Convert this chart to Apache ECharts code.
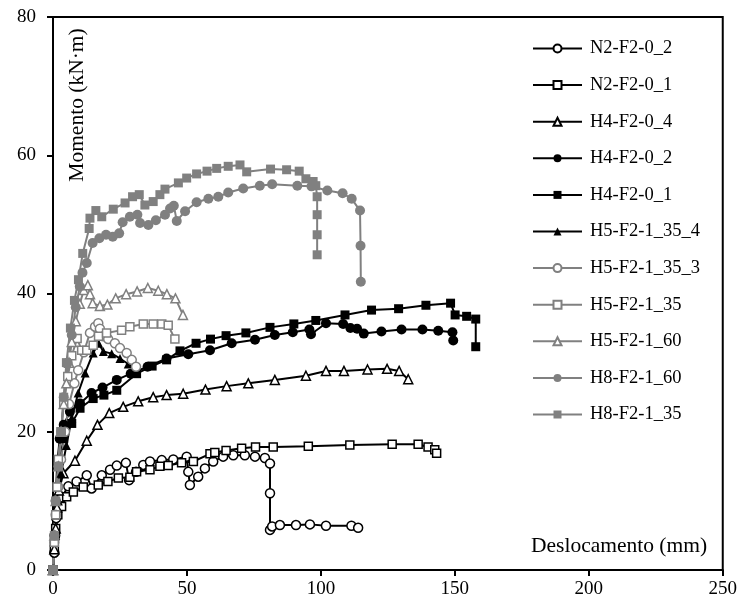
<!DOCTYPE html>
<html>
<head>
<meta charset="utf-8">
<script src="https://cdn.jsdelivr.net/npm/echarts@6/dist/echarts.min.js"></script>
<style>
  html, body { margin: 0; padding: 0; background: #fff; }
  #chart { width: 740px; height: 606px; }
</style>
</head>
<body>
<div id="chart"></div>
<script>
// values: [deslocamento (mm), momento (kN·m)]
const seriesNames = ['N2-F2-0_2', 'N2-F2-0_1', 'H4-F2-0_4', 'H4-F2-0_2', 'H4-F2-0_1',
  'H5-F2-1_35_4', 'H5-F2-1_35_3', 'H5-F2-1_35', 'H5-F2-1_60', 'H8-F2-1_60', 'H8-F2-1_35'];

const n2_0_2 = [[0, 0], [0.5, 2.5], [0.8, 5], [1.2, 7.5], [2, 9.5], [3.2, 10.5], [5.7, 12.1], [8.8, 12.8],
  [12.6, 13.7], [14.4, 11.8], [18.2, 13.7], [21.3, 14.5], [23.8, 15.1], [27.2, 15.5], [28.4, 13],
  [31, 14.2], [33.7, 15.2], [36.2, 15.7], [40.6, 15.9], [44.9, 16.0], [49.9, 16.4], [50.5, 14.2],
  [51.1, 12.3], [54.2, 13.5], [56.7, 14.7], [59.8, 15.7], [63.5, 16.4], [67.3, 16.6], [71.6, 16.6],
  [75.4, 16.4], [79.1, 16.2], [81, 15.4], [81, 11.1], [81, 5.8], [81.8, 6.3], [84.7, 6.5], [90.7, 6.5],
  [95.9, 6.6], [101.9, 6.4], [111.4, 6.4], [113.9, 6.1]];
const n2_0_1 = [[0, 0], [0.5, 3], [1, 6], [1.8, 8], [3.2, 9.2], [5.1, 10.6], [7.6, 11.3], [11.3, 12],
  [16.9, 12.3], [20.5, 12.8], [24.4, 13.3], [28.7, 13.4], [31.2, 14.2], [36.2, 14.5], [39.9, 15],
  [43, 15.1], [48, 15.5], [52.4, 15.7], [58.6, 16.8], [60.4, 17], [64.6, 17.3], [70.4, 17.6],
  [75.6, 17.8], [82.2, 17.8], [95.3, 17.9], [110.8, 18.1], [126.6, 18.2], [136.3, 18.2], [140, 17.8],
  [142.5, 17.4], [143.2, 16.9]];
const h4_0_4 = [[0, 0], [0.5, 3], [1, 6], [1.5, 9], [2.2, 11.5], [3.9, 14], [8.2, 15.8], [12.6, 18.7],
  [16.6, 21], [21, 22.7], [26.2, 23.6], [31.8, 24.4], [37.4, 25], [42.4, 25.3], [48.6, 25.5],
  [56.9, 26.1], [64.8, 26.6], [72.9, 27], [82.8, 27.5], [94.4, 28.1], [101.9, 28.8], [108.6, 28.8],
  [117.4, 29], [124.7, 29.1], [129.2, 28.8], [132.6, 27.6]];
const h4_0_2 = [[0, 0], [0.5, 5], [1, 10], [1.5, 15], [2.5, 19], [4, 21], [6.3, 22.9], [10.1, 24.1],
  [14.4, 25.6], [18.5, 26.4], [23.8, 27.5], [29, 28.4], [35.3, 29.4], [42.4, 30.6], [50.5, 31.2],
  [58.6, 31.8], [66.7, 32.8], [75.4, 33.3], [82.8, 34], [89.5, 34.4], [95.7, 34.8], [96.3, 34.1],
  [101.9, 35.7], [108.3, 35.6], [111, 35], [113.5, 34.9], [116, 34.2], [122.6, 34.5], [130.1, 34.8],
  [137.9, 34.8], [143.8, 34.6], [149.1, 34.4], [149.4, 33.2]];
const h4_0_1 = [[0, 0], [0.5, 4], [1, 8], [1.5, 12], [2.5, 16], [4, 19], [7, 21.2], [10.1, 23.4],
  [15, 24.8], [19, 25.3], [23.8, 26], [31.2, 28.4], [37, 29.5], [42.4, 30.4], [47.4, 31.7],
  [53.4, 32.8], [58.8, 33.4], [64.6, 33.9], [72, 34.3], [81, 35.1], [89.9, 35.6], [98.1, 36.1],
  [109, 36.9], [118.9, 37.6], [129, 37.8], [139.2, 38.3], [148.4, 38.6], [150.1, 36.9], [154.4, 36.7],
  [157.8, 36.3], [157.8, 32.3]];
const h5_35_4 = [[0, 0], [1, 5], [2, 10], [3, 14], [5, 18], [7, 22], [9.4, 25.6], [12, 28.5], [15, 31.4],
  [17, 32.8], [18.8, 31.6], [21.9, 31.3], [25, 30.6], [28.1, 29.8], [30.5, 29.2]];
const h5_35_3 = [[0, 0], [0.5, 4], [1, 8], [2, 12], [3, 16], [4.5, 20], [6, 24], [8, 27], [9.4, 28.9],
  [11.5, 31.5], [13.8, 34.3], [15.7, 35.2], [16.9, 35.7], [17.5, 34.9], [18.8, 33.8], [20.6, 33.4],
  [23.1, 32.8], [25, 32.1], [27.5, 31.4], [29.4, 30.4], [31, 29.4]];
const h5_35 = [[0, 0], [0.5, 4], [1, 8], [1.5, 12], [2, 16], [3, 20], [4, 24], [5.5, 28], [7, 31],
  [9, 33.5], [10.7, 31.8], [12.6, 31.8], [15, 32.5], [17, 33.8], [20, 34.3], [25.6, 34.7], [28.7, 35.2],
  [33.7, 35.6], [37.4, 35.6], [40.6, 35.6], [43, 35.4], [45.5, 33.4]];
const h5_60 = [[0, 0], [0.5, 5], [1, 10], [2, 15], [3, 20], [4, 24], [5, 27], [6, 30], [7, 33], [8.5, 36],
  [10, 38.5], [11.5, 40.5], [13, 41.2], [13.8, 39.9], [14.8, 38.6], [17.5, 38.2], [20.3, 38.4],
  [23.4, 39.3], [27.3, 39.9], [31.4, 40.3], [35.4, 40.8], [39.3, 40.4], [42.5, 39.9], [45.7, 39.3],
  [48.5, 36.9]];
const h8_60 = [[0, 0], [0.5, 5], [1, 10], [2, 15], [3, 20], [4, 25], [5.5, 30], [7, 34], [8.5, 38],
  [10, 41], [11, 43], [12.6, 44.4], [14.8, 47.3], [17.3, 48], [19.8, 48.5], [22.3, 48.2], [24.7, 48.7],
  [26, 50.3], [28.7, 51.1], [31.5, 51.4], [32.5, 50.2], [35.6, 49.9], [38.4, 50.6], [41.8, 51.4],
  [43.7, 52.3], [45.1, 52.7], [46.2, 50.5], [49.3, 51.9], [53.6, 53.2], [58, 53.7], [61.7, 54],
  [65.4, 54.6], [71, 55.2], [77.2, 55.6], [81.8, 55.8], [91.2, 55.6], [96.5, 55.5], [102.4, 54.9],
  [108.1, 54.5], [111.5, 53.7], [114.6, 52], [114.8, 46.9], [114.9, 41.7]];
const h8_35 = [[0, 0], [0.5, 5], [1, 10], [2, 15], [3, 20], [4, 25], [5, 30], [6.5, 35], [8, 39],
  [9.5, 42], [11.1, 45.8], [13.5, 49.4], [13.8, 50.9], [16, 52], [18.2, 51.1], [22.5, 52.2],
  [26.9, 53.1], [29.7, 54], [32.2, 54.3], [34.3, 52.8], [37.4, 53.3], [39.9, 54.3], [41.8, 55.1],
  [46.8, 56], [49.9, 56.7], [53.6, 57.3], [57.5, 57.7], [61.1, 58.1], [65.4, 58.4], [69.8, 58.6],
  [72.3, 57.6], [81.2, 58], [87.2, 57.9], [91.9, 57.7], [94.4, 56.6], [97.1, 56.2], [98.1, 55.6],
  [98.6, 54], [98.6, 51.4], [98.6, 48.5], [98.6, 45.6]];

const seriesData = [n2_0_2, n2_0_1, h4_0_4, h4_0_2, h4_0_1, h5_35_4, h5_35_3, h5_35, h5_60, h8_60, h8_35];
const seriesSymbols = ['circle', 'rect', 'triangle', 'circle', 'rect', 'triangle',
  'circle', 'rect', 'triangle', 'circle', 'rect'];
const seriesFilled = [false, false, false, true, true, true, false, false, false, true, true];
const seriesGrey = [false, false, false, false, false, false, true, true, true, true, true];

const FONT = '"Liberation Serif", "DejaVu Serif", serif';
const BLACK = '#000000';
const GREY = '#808080';

const chart = echarts.init(document.getElementById('chart'), null, { renderer: 'canvas' });

function symbolSize(sym, filled) {
  if (sym === 'rect') return filled ? 9 : 8;
  if (sym === 'circle') return filled ? 10 : 9;
  return 9;
}

const series = seriesNames.map((name, i) => {
  const color = seriesGrey[i] ? GREY : BLACK;
  const sym = seriesSymbols[i];
  return {
    name,
    type: 'line',
    data: seriesData[i],
    symbol: sym,
    symbolSize: symbolSize(sym, seriesFilled[i]),
    showAllSymbol: true,
    animation: false,
    lineStyle: { color, width: 2 },
    itemStyle: {
      color: seriesFilled[i] ? color : '#ffffff',
      borderColor: color,
      borderWidth: seriesFilled[i] ? 0 : 1.5,
    },
    emphasis: { disabled: true },
  };
});

const option = {
  backgroundColor: '#ffffff',
  animation: false,
  grid: {
    left: 53,
    right: 17,
    top: 17,
    bottom: 36,
    show: true,
    borderColor: BLACK,
    borderWidth: 2,
  },
  legend: {
    orient: 'vertical',
    left: 527,
    top: 34,
    itemWidth: 49,
    itemHeight: 10,
    itemGap: 17.6,
    textStyle: { fontFamily: FONT, fontSize: 18.5, color: BLACK, padding: [0, 0, 0, 3] },
    data: seriesNames,
  },
  xAxis: {
    type: 'value',
    min: 0,
    max: 250,
    interval: 50,
    splitLine: { show: false },
    axisLine: { lineStyle: { color: BLACK, width: 2 } },
    axisTick: { show: true, length: 6, lineStyle: { color: BLACK, width: 2 } },
    axisLabel: { fontFamily: FONT, fontSize: 19, color: BLACK, margin: 10 },
  },
  yAxis: {
    type: 'value',
    min: 0,
    max: 80,
    interval: 20,
    splitLine: { show: false },
    axisLine: { lineStyle: { color: BLACK, width: 2 } },
    axisTick: { show: true, length: 6, lineStyle: { color: BLACK, width: 2 } },
    axisLabel: { fontFamily: FONT, fontSize: 19, color: BLACK, margin: 17 },
  },
  graphic: [
    {
      type: 'text',
      x: 77,
      y: 105,
      rotation: Math.PI / 2,
      style: {
        text: 'Momento (kN·m)',
        fontFamily: FONT,
        fontSize: 21.5,
        fill: BLACK,
        align: 'center',
        verticalAlign: 'middle',
      },
    },
    {
      type: 'text',
      x: 531,
      y: 546,
      style: {
        text: 'Deslocamento (mm)',
        fontFamily: FONT,
        fontSize: 21.5,
        fill: BLACK,
        align: 'left',
        verticalAlign: 'middle',
      },
    },
  ],
  series,
};

chart.setOption(option);
</script>
</body>
</html>
